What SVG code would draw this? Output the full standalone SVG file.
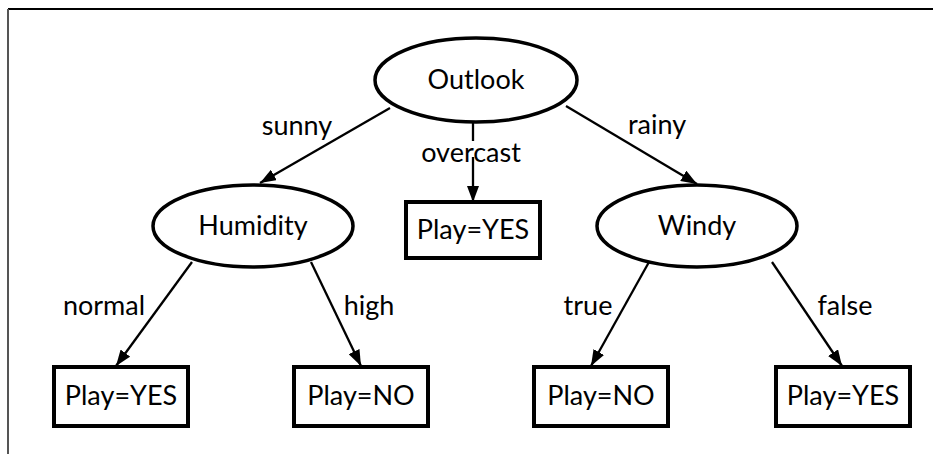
<svg xmlns="http://www.w3.org/2000/svg" width="933" height="454" viewBox="0 0 933 454">
<style>
text{font-family:Lato,"Open Sans","Liberation Sans",sans-serif;font-size:27px;fill:#000;text-anchor:middle}
.n{fill:#fff;stroke:#000;stroke-width:3.5}
.b{fill:#fff;stroke:#000;stroke-width:4}
.e{stroke:#000;stroke-width:2.3;fill:none}
</style>
<defs>
<marker id="ah" viewBox="0 0 16 12" refX="16" refY="6" markerWidth="16" markerHeight="12" markerUnits="userSpaceOnUse" orient="auto">
<path d="M0,0 L16,6 L0,12 Z" fill="#000"/>
</marker>
</defs>
<rect width="933" height="454" fill="#fff"/>
<g id="frame">
<line x1="8" y1="9" x2="933" y2="9" stroke="#000" stroke-width="2"/>
<line x1="8" y1="9" x2="8" y2="454" stroke="#555" stroke-width="2"/>
</g>
<g id="connectors">
<line class="e" x1="390" y1="108" x2="260" y2="183" marker-end="url(#ah)"/>
<line class="e" x1="473" y1="122" x2="473" y2="141"/>
<line class="e" x1="473" y1="157" x2="473" y2="202" marker-end="url(#ah)"/>
<line class="e" x1="566" y1="106" x2="697" y2="184" marker-end="url(#ah)"/>
<line class="e" x1="192" y1="262" x2="116" y2="366" marker-end="url(#ah)"/>
<line class="e" x1="311" y1="262" x2="361" y2="366" marker-end="url(#ah)"/>
<line class="e" x1="649" y1="262" x2="591" y2="366" marker-end="url(#ah)"/>
<line class="e" x1="772" y1="262" x2="842" y2="366" marker-end="url(#ah)"/>
<text x="297" y="135">sunny</text>
<text x="471" y="162">overcast</text>
<text x="657" y="134">rainy</text>
<text x="104" y="315">normal</text>
<text x="369" y="315">high</text>
<text x="588" y="315">true</text>
<text x="845" y="315">false</text>
</g>
<g id="outlook">
<ellipse class="n" cx="476" cy="80" rx="101" ry="42"/>
<text x="476" y="89">Outlook</text>
</g>
<g id="humidity">
<ellipse class="n" cx="253" cy="226" rx="100" ry="41"/>
<text x="253" y="235">Humidity</text>
</g>
<g id="windy">
<ellipse class="n" cx="697" cy="226" rx="100" ry="41"/>
<text x="697" y="235">Windy</text>
</g>
<g id="play-yes-overcast">
<rect class="b" x="406" y="202" width="134" height="56"/>
<text x="473" y="239">Play=YES</text>
</g>
<g id="play-yes-normal">
<rect class="b" x="54" y="367" width="134" height="59"/>
<text x="121" y="405">Play=YES</text>
</g>
<g id="play-no-high">
<rect class="b" x="294" y="367" width="134" height="59"/>
<text x="361" y="405">Play=NO</text>
</g>
<g id="play-no-true">
<rect class="b" x="534" y="367" width="134" height="59"/>
<text x="601" y="405">Play=NO</text>
</g>
<g id="play-yes-false">
<rect class="b" x="776" y="367" width="134" height="59"/>
<text x="843" y="405">Play=YES</text>
</g>
</svg>
